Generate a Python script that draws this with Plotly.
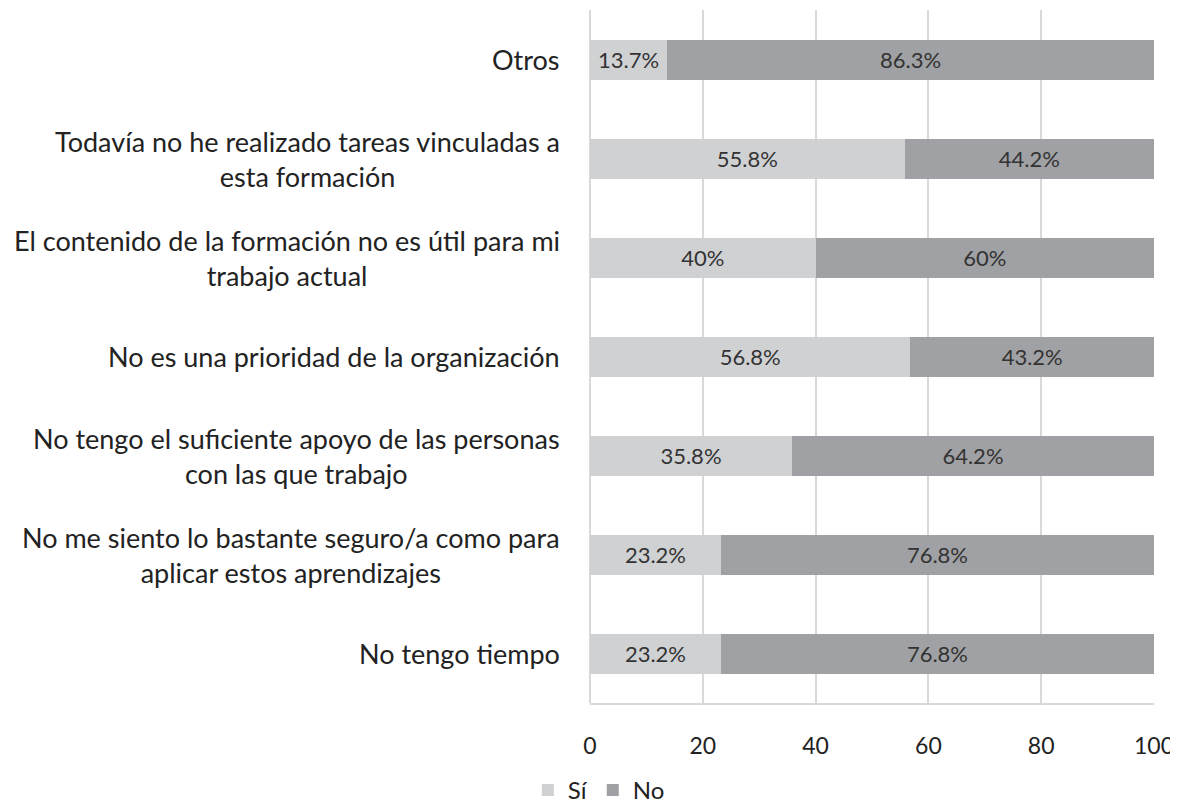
import plotly.graph_objects as go

categories = [
    "Otros",
    "Todavía no he realizado tareas vinculadas a<br>esta formación",
    "El contenido de la formación no es útil para mi<br>trabajo actual",
    "No es una prioridad de la organización",
    "No tengo el suficiente apoyo de las personas<br>con las que trabajo",
    "No me siento lo bastante seguro/a como para<br>aplicar estos aprendizajes",
    "No tengo tiempo",
]
si_values = [13.7, 55.8, 40, 56.8, 35.8, 23.2, 23.2]
no_values = [86.3, 44.2, 60, 43.2, 64.2, 76.8, 76.8]
x_ticks = [0, 20, 40, 60, 80, 100]

FONT = "Lato"
TXT = "#222222"

def fmt(v):
    return (f"{v:g}") + "%"

fig = go.Figure()
fig.add_trace(go.Bar(
    y=categories, x=si_values, orientation="h", name="Sí",
    marker=dict(color="#d0d1d3", line=dict(width=0)),
    text=[fmt(v) for v in si_values], textposition="inside",
    insidetextanchor="middle", textangle=0,
    textfont=dict(family=FONT, size=22, color="#333333"),
    width=0.404,
))
fig.add_trace(go.Bar(
    y=categories, x=no_values, orientation="h", name="No",
    marker=dict(color="#a0a1a4", line=dict(width=0)),
    text=[fmt(v) for v in no_values], textposition="inside",
    insidetextanchor="middle", textangle=0,
    textfont=dict(family=FONT, size=22, color="#333333"),
    width=0.404,
))

for c in categories:
    fig.add_annotation(
        x=-0.05, xref="paper", y=c, yref="y",
        text=c, showarrow=False, xanchor="right", align="center",
        font=dict(family=FONT, size=27, color=TXT),
    )

fig.update_layout(
    template="none",
    width=1170, height=800,
    margin=dict(l=582, r=24, t=2, b=105, autoexpand=False),
    barmode="stack",
    paper_bgcolor="white", plot_bgcolor="white",
    font=dict(family=FONT, color=TXT),
    uniformtext=dict(minsize=10, mode="show"),
    legend=dict(
        orientation="h", x=0.505, xanchor="center", xref="container",
        y=0.022, yanchor="middle", yref="container",
        font=dict(family=FONT, size=24, color=TXT),
        traceorder="normal", itemwidth=30,
    ),
    xaxis=dict(
        range=[0, 100], tickvals=x_ticks, ticktext=[str(t) for t in x_ticks],
        showgrid=True, gridcolor="#d9d9d9", gridwidth=2,
        zeroline=True, zerolinecolor="#d9d9d9", zerolinewidth=2,
        showline=True, linecolor="#d9d9d9", linewidth=2,
        ticks="", ticklabelstandoff=21,
        tickfont=dict(family=FONT, size=23, color=TXT),
        automargin=False, fixedrange=True,
    ),
    yaxis=dict(
        type="category", autorange="reversed",
        showticklabels=False, showgrid=False, zeroline=False, showline=False,
        ticks="", automargin=False,
    ),
)

fig.write_html("out.html")
